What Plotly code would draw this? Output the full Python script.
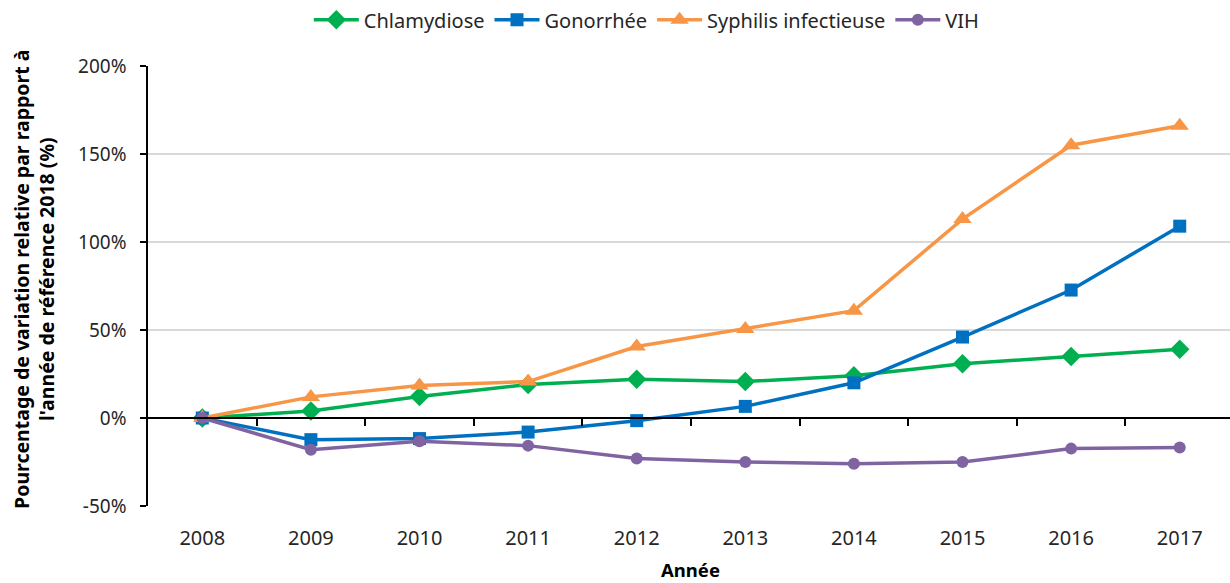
import plotly.graph_objects as go

years = ["2008", "2009", "2010", "2011", "2012", "2013", "2014", "2015", "2016", "2017"]
chlamydiose = [0, 4, 12.2, 19, 22, 20.7, 24, 30.8, 35, 39]
gonorrhee = [0, -12.3, -11.7, -8, -1.5, 6.6, 20, 46, 72.7, 109]
syphilis = [0, 12, 18.5, 20.7, 40.6, 50.6, 61, 113, 155, 166]
vih = [0, -18, -13.2, -15.7, -23, -25, -26, -25, -17.4, -16.7]
y_tick_values = [-50, 0, 50, 100, 150, 200]
y_tick_labels = ["-50%", "0%", "50%", "100%", "150%", "200%"]

series = [
    ("Chlamydiose", chlamydiose, "#00B050", "diamond", 15),
    ("Gonorrhée", gonorrhee, "#0070C0", "square", 13),
    ("Syphilis infectieuse", syphilis, "#F79646", "triangle-up", 16),
    ("VIH", vih, "#8064A2", "circle", 12),
]

FONT = "Noto Sans"

fig = go.Figure()
for name, vals, color, sym, size in series:
    fig.add_trace(go.Scatter(
        x=years, y=vals, name=name, mode="lines+markers",
        line=dict(color=color, width=3.5),
        marker=dict(symbol=sym, size=size, color=color),
    ))

fig.update_layout(
    width=1230, height=583,
    margin=dict(l=148, r=0, t=66, b=77, autoexpand=False),
    plot_bgcolor="white", paper_bgcolor="white",
    font=dict(family=FONT, color="#262626"),
    legend=dict(
        orientation="h", x=0.461, xanchor="center", y=0.966, yanchor="middle",
        yref="container",
        font=dict(size=20, color="#262626"), itemwidth=45,
        bgcolor="rgba(0,0,0,0)", traceorder="normal",
    ),
    xaxis=dict(
        type="category", range=[-0.5, 9.463], automargin=False,
        showgrid=False, showline=False, zeroline=False, ticks="",
        tickfont=dict(size=20, color="#262626"), ticklabelstandoff=18,
        fixedrange=True,
    ),
    xaxis2=dict(
        overlaying="x", anchor="free", position=0.2, range=[-0.5, 9.463],
        tickvals=[0.5, 1.5, 2.5, 3.5, 4.5, 5.5, 6.5, 7.5, 8.5],
        ticks="outside", ticklen=7, tickwidth=1.5, tickcolor="black",
        showticklabels=False, showgrid=False, zeroline=False,
        showline=True, linecolor="black", linewidth=1.5, automargin=False,
    ),
    yaxis=dict(
        range=[-50, 200], tickvals=y_tick_values, ticktext=y_tick_labels,
        showgrid=True, gridcolor="#D9D9D9", gridwidth=1.5, automargin=False,
        zeroline=False, showline=True, linecolor="black", linewidth=1.5,
        ticks="outside", ticklen=6, tickwidth=1.5, tickcolor="black",
        tickfont=dict(size=19, color="#262626"), ticklabelstandoff=10,
        fixedrange=True,
    ),
    annotations=[
        dict(text="<b>Pourcentage de variation relative par rapport à<br>l'année de référence 2018 (%)</b>",
             xref="paper", yref="paper", x=-0.1054, y=0.516, xanchor="center", yanchor="middle",
             textangle=-90, showarrow=False, font=dict(size=19.5, color="#000000")),
        dict(text="<b>Année</b>", xref="paper", yref="paper", x=0.501, y=-0.1432,
             xanchor="center", yanchor="middle", showarrow=False,
             font=dict(size=18.5, color="#000000")),
    ],
)

fig.add_trace(go.Scatter(x=[None], y=[None], xaxis="x2", showlegend=False, hoverinfo="skip"))

fig.write_html("out.html", config={"displayModeBar": False},
               post_script="document.body.style.margin='0';document.body.style.overflow='hidden';")
